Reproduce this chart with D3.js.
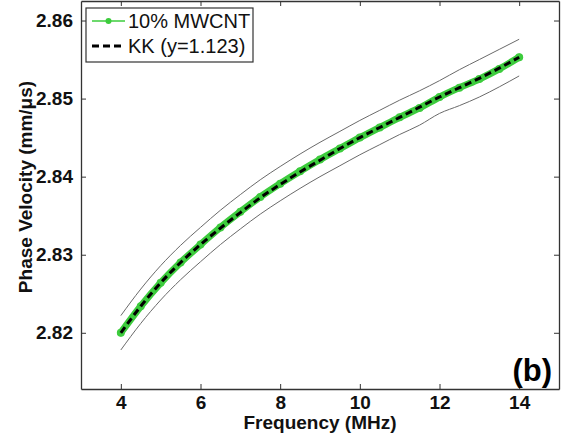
<!DOCTYPE html>
<html>
<head>
<meta charset="utf-8">
<script src="https://cdn.jsdelivr.net/npm/d3@7"></script>
<style>
  body { margin: 0; background: #fff; }
  svg { display: block; font-family: "Liberation Sans", Arial, sans-serif; }
</style>
</head>
<body>
<div class="chart"></div>
<script>
// data
var freq = [4, 4.5, 5, 5.5, 6, 6.5, 7, 7.5, 8, 8.5, 9, 9.5, 10, 10.5, 11, 11.5, 12, 12.5, 13, 13.5, 14];
var mwcnt = [2.8200, 2.8234, 2.8264, 2.8290, 2.8313, 2.8335, 2.8355, 2.8374, 2.8391, 2.8407, 2.8422,
  2.8436, 2.8450, 2.8463, 2.8476, 2.8488, 2.8502, 2.8514, 2.8525, 2.8538, 2.8553];
var kk = [2.8200, 2.8234, 2.8264, 2.8290, 2.8313, 2.8334, 2.8354, 2.8373, 2.8390, 2.8406, 2.8421,
  2.8436, 2.8450, 2.8463, 2.8476, 2.8489, 2.8502, 2.8514, 2.8526, 2.8539, 2.8553];
var upper = [2.8222, 2.8256, 2.8286, 2.8312, 2.8335, 2.8357, 2.8377, 2.8396, 2.8413, 2.8429, 2.8444,
  2.8458, 2.8472, 2.8485, 2.8498, 2.8510, 2.8523, 2.8537, 2.8550, 2.8563, 2.8576];
var lower = [2.8178, 2.8212, 2.8242, 2.8268, 2.8291, 2.8313, 2.8333, 2.8352, 2.8369, 2.8385, 2.8400,
  2.8414, 2.8428, 2.8441, 2.8454, 2.8466, 2.8481, 2.8491, 2.8502, 2.8515, 2.8529];
var xTicks = [4, 6, 8, 10, 12, 14];
var yTicks = [2.82, 2.83, 2.84, 2.85, 2.86];
var legendLabels = ["10% MWCNT", "KK (y=1.123)"];

(function () {
  var width = 562, height = 438;
  var mLeft = 81, mRight = 559, mTop = 1, mBottom = 389;

  var svg = d3.select(".chart").append("svg").attr("width", width).attr("height", height);

  var x = d3.scaleLinear().domain([3, 15]).range([mLeft, mRight]);
  var y = d3.scaleLinear().domain([2.8128, 2.8625]).range([mBottom, mTop]);

  function series(vals) {
    return freq.map(function (f, i) { return [f, vals[i]]; });
  }
  var line = d3.line()
    .x(function (d) { return x(d[0]); })
    .y(function (d) { return y(d[1]); })
    .curve(d3.curveMonotoneX);

  // bounds
  [upper, lower].forEach(function (b) {
    svg.append("path").attr("d", line(series(b)))
      .attr("fill", "none").attr("stroke", "#6a6a6a").attr("stroke-width", 1);
  });

  // green measured curve
  svg.append("path").attr("d", line(series(mwcnt)))
    .attr("fill", "none").attr("stroke", "#3dcc3d").attr("stroke-width", 7)
    .attr("stroke-linecap", "round");
  svg.append("g").selectAll("circle").data(series(mwcnt)).enter().append("circle")
    .attr("cx", function (d) { return x(d[0]); })
    .attr("cy", function (d) { return y(d[1]); })
    .attr("r", 4).attr("fill", "#3dcc3d");

  // KK dashed
  svg.append("path").attr("d", line(series(kk)))
    .attr("fill", "none").attr("stroke", "#000").attr("stroke-width", 3)
    .attr("stroke-dasharray", "7,4");

  // axes
  svg.append("g").attr("transform", "translate(0," + mBottom + ")")
    .call(d3.axisBottom(x).tickValues(xTicks).tickSizeInner(-5).tickSizeOuter(0).tickFormat(d3.format("d")))
    .call(function (g) { g.selectAll("text").attr("font-size", 19).attr("font-weight", "bold").attr("fill", "#111").attr("y", 7); });
  svg.append("g").attr("transform", "translate(0," + mTop + ")")
    .call(d3.axisTop(x).tickValues(xTicks).tickSizeInner(-5).tickSizeOuter(0).tickFormat(""));
  svg.append("g").attr("transform", "translate(" + mLeft + ",0)")
    .call(d3.axisLeft(y).tickValues(yTicks).tickSizeInner(-5).tickSizeOuter(0).tickFormat(d3.format(".2f")))
    .call(function (g) { g.selectAll("text").attr("font-size", 19).attr("font-weight", "bold").attr("fill", "#111").attr("x", -8); });
  svg.append("g").attr("transform", "translate(" + mRight + ",0)")
    .call(d3.axisRight(y).tickValues(yTicks).tickSizeInner(-5).tickSizeOuter(0).tickFormat(""));
  svg.selectAll(".domain").attr("stroke", "#333").attr("stroke-width", 1.3);
  svg.selectAll(".tick line").attr("stroke", "#333");
  svg.selectAll("text").attr("font-family", "Liberation Sans, Arial, sans-serif");

  // axis titles
  svg.append("text").attr("x", (mLeft + mRight) / 2).attr("y", 429)
    .attr("text-anchor", "middle").attr("font-size", 19).attr("font-weight", "bold")
    .attr("fill", "#111").text("Frequency (MHz)");
  svg.append("text").attr("transform", "translate(32," + ((mTop + mBottom) / 2 - 8) + ") rotate(-90)")
    .attr("text-anchor", "middle").attr("font-size", 19).attr("font-weight", "bold")
    .attr("fill", "#111").text("Phase Velocity (mm/μs)");

  // panel label
  svg.append("text").attr("x", 552).attr("y", 381).attr("text-anchor", "end")
    .attr("font-size", 31).attr("font-weight", "bold").attr("fill", "#000").text("(b)");

  // legend
  var lg = svg.append("g");
  lg.append("rect").attr("x", 86).attr("y", 8).attr("width", 167).attr("height", 54)
    .attr("fill", "#fff").attr("stroke", "#333").attr("stroke-width", 1.2);
  lg.append("line").attr("x1", 92).attr("x2", 125).attr("y1", 21).attr("y2", 21)
    .attr("stroke", "#3dcc3d").attr("stroke-width", 1.5);
  lg.append("circle").attr("cx", 108.5).attr("cy", 21).attr("r", 3).attr("fill", "#3dcc3d");
  lg.append("line").attr("x1", 92).attr("x2", 125).attr("y1", 46).attr("y2", 46)
    .attr("stroke", "#000").attr("stroke-width", 3).attr("stroke-dasharray", "7,4");
  lg.selectAll("text").data(legendLabels).enter().append("text")
    .attr("x", 128).attr("y", function (d, i) { return 28 + i * 25; })
    .attr("font-size", 20).attr("fill", "#111").text(function (d) { return d; });
})();
</script>
</body>
</html>
